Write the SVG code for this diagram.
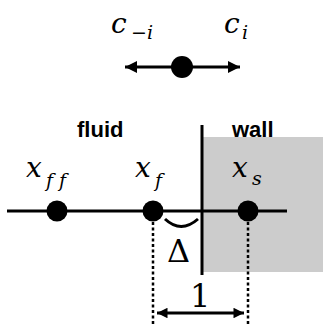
<svg xmlns="http://www.w3.org/2000/svg" width="323" height="325" viewBox="0 0 323 325">
<style>
.ln{stroke:#000;stroke-width:3;fill:none}
.dot{fill:#000}
.dt{stroke:#000;stroke-width:2.5;stroke-dasharray:3 2.5;fill:none}
.m{font-family:"DejaVu Serif","Liberation Serif",serif;font-style:italic;font-size:28px;fill:#000}
.s{font-family:"DejaVu Serif","Liberation Serif",serif;font-style:italic;font-size:19px;fill:#000}
.r{font-family:"DejaVu Serif","Liberation Serif",serif;font-size:32px;fill:#000}
.b{font-family:"Liberation Sans",Arial,sans-serif;font-weight:bold;font-size:22px;fill:#000}
</style>
<defs>
<marker id="ah" viewBox="0 0 10 10" refX="10" refY="5" markerWidth="4" markerHeight="4" orient="auto-start-reverse" markerUnits="strokeWidth">
<path d="M0,0 L10,5 L0,10 Z" fill="#000"/>
</marker>
<marker id="ah2" viewBox="0 0 10 10" refX="10" refY="5" markerWidth="4" markerHeight="3.5" orient="auto-start-reverse" markerUnits="strokeWidth">
<path d="M0,0 L10,5 L0,10 Z" fill="#000"/>
</marker>
</defs>
<rect id="wall-region" x="203" y="137" width="120" height="135" fill="#cccccc"/>
<g id="connectors">
<line class="ln" x1="125" y1="67" x2="240" y2="67" marker-start="url(#ah)" marker-end="url(#ah)"/>
<line class="ln" x1="7" y1="211" x2="287" y2="211"/>
<line class="ln" x1="202" y1="125" x2="202" y2="275"/>
<path class="ln" d="M165,219 Q181,234 198,219" stroke-width="2.5"/>
<line class="dt" x1="153" y1="222" x2="153" y2="325"/>
<line class="dt" x1="248" y1="222" x2="248" y2="325"/>
<line class="ln" x1="157" y1="313" x2="244" y2="313" stroke-width="2.5" marker-start="url(#ah2)" marker-end="url(#ah2)"/>
</g>
<g id="node-c">
<circle class="dot" cx="182" cy="67" r="11"/>
<text class="m" x="111" y="33">c</text><text class="s" x="131" y="39">−<tspan>i</tspan></text>
<text class="m" x="224" y="33">c</text><text class="s" x="242" y="39">i</text>
</g>
<g id="labels">
<text class="b" x="77" y="137">fluid</text>
<text class="b" x="232" y="137">wall</text>
</g>
<g id="node-xff">
<circle class="dot" cx="57" cy="211" r="10.5"/>
<text class="m" x="26" y="177">x</text><text class="s" x="46" y="187">f f</text>
</g>
<g id="node-xf">
<circle class="dot" cx="153" cy="211" r="10.5"/>
<text class="m" x="135" y="177">x</text><text class="s" x="155" y="187">f</text>
</g>
<g id="node-xs">
<circle class="dot" cx="248" cy="211" r="10.5"/>
<text class="m" x="232" y="177">x</text><text class="s" x="252" y="185">s</text>
</g>
<g id="label-delta">
<text class="r" x="167" y="262">Δ</text>
</g>
<g id="label-one">
<text class="r" x="190" y="307">1</text>
</g>
</svg>
